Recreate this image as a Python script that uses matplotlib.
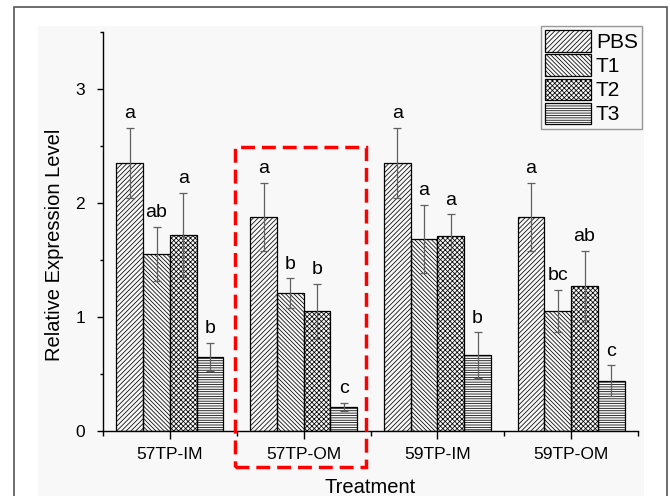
import numpy as np
import matplotlib.pyplot as plt
from matplotlib.patches import Rectangle

plt.rcParams['font.family'] = ['Liberation Sans', 'DejaVu Sans']
plt.rcParams['hatch.linewidth'] = 0.55

groups = ['57TP-IM', '57TP-OM', '59TP-IM', '59TP-OM']
treatments = ['PBS', 'T1', 'T2', 'T3']

pbs = [2.35, 1.875, 2.35, 1.875]
pbs_err = [0.31, 0.30, 0.31, 0.30]
t1 = [1.555, 1.21, 1.686, 1.05]
t1_err = [0.235, 0.13, 0.30, 0.185]
t2 = [1.72, 1.05, 1.71, 1.27]
t2_err = [0.37, 0.24, 0.19, 0.31]
t3 = [0.65, 0.21, 0.665, 0.44]
t3_err = [0.12, 0.035, 0.20, 0.135]

pbs_sig = ['a', 'a', 'a', 'a']
t1_sig = ['ab', 'b', 'a', 'bc']
t2_sig = ['a', 'b', 'a', 'ab']
t3_sig = ['b', 'c', 'b', 'c']

highlight = 1  # group boxed in red

values = [pbs, t1, t2, t3]
errors = [pbs_err, t1_err, t2_err, t3_err]
letters = [pbs_sig, t1_sig, t2_sig, t3_sig]
hatches = ['/' * 7, '\\' * 8, 'x' * 7, '-' * 7]

W, H = 670, 496
fig = plt.figure(figsize=(W / 100, H / 100), dpi=100)
fig.patch.set_facecolor('white')

# screenshot-like panel and frame
fig.patches.append(Rectangle((38 / W, 0), (644 - 38) / W, (H - 26) / H,
                             transform=fig.transFigure, facecolor='#f8f8f8',
                             edgecolor='none', zorder=-10))
fig.patches.append(Rectangle((14 / W, -0.05), (667 - 14) / W, (H - 7) / H + 0.05,
                             transform=fig.transFigure, fill=False,
                             edgecolor='#555555', lw=1.2, zorder=-9))

ax = fig.add_axes([103 / W, 65 / H, 535 / W, 399 / H])
ax.patch.set_alpha(0)

x = np.arange(len(groups))
width = 0.2
offsets = [-0.3, -0.1, 0.1, 0.3]

for i in range(4):
    ax.bar(x + offsets[i], values[i], width, color='none', edgecolor='black',
           hatch=hatches[i], linewidth=0.9, label=treatments[i])
    ax.errorbar(x + offsets[i], values[i], yerr=errors[i], fmt='none',
                ecolor='#606060', elinewidth=0.9, capsize=3, capthick=0.9)
    for j in range(len(groups)):
        ax.annotate(letters[i][j], (x[j] + offsets[i], values[i][j] + errors[i][j]),
                    xytext=(0, 7), textcoords='offset points',
                    ha='center', va='baseline', fontsize=14)

ax.set_xlim(-0.5, 3.5)
ax.set_ylim(0, 3.5)
ax.set_xticks(x)
ax.set_xticklabels(groups)
ax.set_xticks(np.arange(-0.5, 3.6, 1), minor=True)
ax.set_yticks([0, 1, 2, 3])
ax.set_yticks(np.arange(0.5, 3.6, 1), minor=True)

for s in ['top', 'right']:
    ax.spines[s].set_visible(False)
for s in ['left', 'bottom']:
    ax.spines[s].set_linewidth(1.0)

ax.tick_params(axis='x', which='major', length=5.5, width=1.0, labelsize=12.5, pad=6)
ax.tick_params(axis='x', which='minor', length=3.5, width=1.0)
ax.tick_params(axis='y', which='major', length=4.5, width=1.0, labelsize=12.5, pad=8.5)
ax.tick_params(axis='y', which='minor', length=2.5, width=1.0)

ax.set_ylabel('Relative Expression Level', fontsize=14.5)
ax.set_xlabel('Treatment', fontsize=14.5)
ax.yaxis.set_label_coords(-0.073, 0.466)
ax.xaxis.set_label_coords(0.5, -0.118)
ax.xaxis.label.set_va('top')

# red dashed box around the highlighted group
ax.add_patch(Rectangle((highlight - 0.51, -0.32), 0.98, 2.81, fill=False,
                       edgecolor='red', lw=2.5, linestyle=(0, (4, 2)),
                       clip_on=False, zorder=5))

leg = fig.legend(loc='upper right', bbox_to_anchor=(642 / W, 1 - 26 / H),
                 fontsize=15, frameon=True, fancybox=False,
                 handlelength=2.2, handleheight=1.2, handletextpad=0.25,
                 labelspacing=0.12, borderpad=0.2, borderaxespad=0)
leg.get_frame().set_edgecolor('#808080')
leg.get_frame().set_linewidth(1.0)
leg.get_frame().set_facecolor('#f8f8f8')

fig.savefig('out.png', dpi=100)
